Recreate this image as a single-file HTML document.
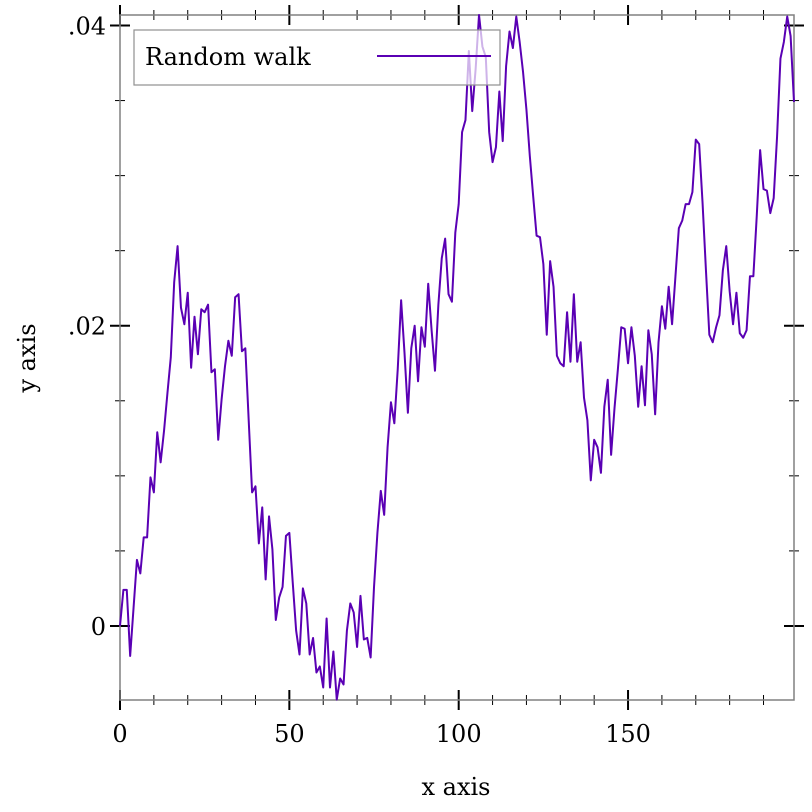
<!DOCTYPE html>
<html><head><meta charset="utf-8"><style>
html,body{margin:0;padding:0;background:#fff;}
svg{display:block;font-family:"DejaVu Serif","Liberation Serif",serif;}
</style></head><body>
<svg id="chart" width="812" height="812" viewBox="0 0 812 812" xmlns="http://www.w3.org/2000/svg">
<rect x="0" y="0" width="812" height="812" fill="#fff"/>
<g id="ticks"></g>
<rect x="120" y="15" width="674" height="685" fill="none" stroke="#808080" stroke-width="1.5"/>
<polyline id="series" fill="none" stroke="#5a00b4" stroke-width="2" stroke-linejoin="round"/>
<g id="ticklabels" font-size="24" fill="#000"></g>
<text x="456" y="795" text-anchor="middle" font-size="24">x axis</text>
<text transform="translate(35,358) rotate(-90)" text-anchor="middle" font-size="24">y axis</text>
<g>
<rect x="134" y="30" width="366" height="55" fill="rgba(255,255,255,0.7)" stroke="#909090" stroke-width="1.2"/>
<text x="145" y="65" font-size="24">Random walk</text>
<line x1="377" y1="56" x2="491" y2="56" stroke="#5a00b4" stroke-width="2"/>
</g>
</svg>
<script>
const walkValues = [0,2.4,2.4,-2.0,1.2,4.4,3.5,5.9,5.9,9.9,8.9,12.9,10.9,13.0,15.5,17.9,22.9,25.3,21.2,20.1,22.2,17.2,20.6,18.1,21.1,20.9,21.4,16.9,17.1,12.4,15.1,17.3,19.0,18.0,21.9,22.1,18.3,18.5,13.7,8.9,9.3,5.5,7.9,3.1,7.3,5.1,0.4,1.9,2.6,6.0,6.2,2.9,-0.3,-1.9,2.5,1.5,-1.9,-0.8,-3.1,-2.7,-4.1,0.5,-4.1,-1.7,-4.9,-3.5,-3.9,-0.3,1.5,0.9,-1.4,2.0,-0.9,-0.8,-2.1,2.6,6.2,9.0,7.4,11.9,14.9,13.5,17.1,21.7,18.2,14.2,18.5,20.0,16.3,19.9,18.6,22.8,19.7,17.0,21.4,24.5,25.8,22.1,21.6,26.2,28.1,32.9,33.7,38.3,34.3,37.1,40.7,38.6,37.9,32.9,30.9,31.9,35.6,32.3,37.3,39.6,38.5,40.6,38.9,36.9,34.4,31.3,28.6,26.0,25.9,24.1,19.4,24.3,22.6,18.0,17.5,17.3,20.9,17.6,22.1,17.6,18.9,15.2,13.7,9.7,12.4,11.9,10.2,14.6,16.4,11.4,14.5,17.1,19.9,19.8,17.5,19.9,18.0,14.6,17.3,14.7,19.7,18.1,14.1,18.9,21.3,19.8,22.6,20.1,23.3,26.5,27.0,28.1,28.1,28.9,32.4,32.1,28.2,23.7,19.4,18.9,19.9,20.7,23.7,25.3,22.3,20.1,22.2,19.5,19.2,19.7,23.3,23.3,27.3,31.7,29.1,29.0,27.5,28.5,32.6,37.8,38.9,40.6,39.3,34.9];
const xTickValues = [0,50,100,150];
const xTickLabels = ["0","50","100","150"];
const yTickValues = [0,0.02,0.04];
const yTickLabels = ["0",".02",".04"];

const X0=120,X1=794,Y0=700,Y1=15;
const xMin=0,xMax=199,yMin=-0.004933,yMax=0.0407;
function sx(v){return X0+(v-xMin)/(xMax-xMin)*(X1-X0);}
function sy(v){return Y0-(v-yMin)/(yMax-yMin)*(Y0-Y1);}
const NS="http://www.w3.org/2000/svg";

document.getElementById('series').setAttribute('points',
  walkValues.map((v,i)=>sx(i).toFixed(2)+','+sy(v/1000).toFixed(2)).join(' '));

const tg=document.getElementById('ticks');
function line(x1,y1,x2,y2,w,name){
  const l=document.createElementNS(NS,'line');
  l.setAttribute('x1',x1);l.setAttribute('y1',y1);l.setAttribute('x2',x2);l.setAttribute('y2',y2);
  l.setAttribute('stroke','#000');l.setAttribute('stroke-width',w);
  
  
  tg.appendChild(l);
}
for(let v=0;v<=xMax;v+=10){
  const major=v%50===0, L=major?10:5, w=major?2:1, x=sx(v);
  line(x,Y0-L,x,Y0+L,w,'x-tick');
  line(x,Y1-L,x,Y1+L,w,'x-tick-top');
}
for(let k=-1;k<=8;k++){
  const v=k*0.005; if(v<yMin||v>yMax) continue;
  const major=k%4===0, L=major?10:5, w=major?2:1, y=sy(v);
  line(X0-L,y,X0+L,y,w,'y-tick');
  line(X1-L,y,X1+L,y,w,'y-tick-right');
}
const lg=document.getElementById('ticklabels');
xTickValues.forEach((v,i)=>{
  const t=document.createElementNS(NS,'text');
  t.setAttribute('x',sx(v));t.setAttribute('y',742);t.setAttribute('text-anchor','middle');
  t.textContent=xTickLabels[i];
  
  
  lg.appendChild(t);
});
yTickValues.forEach((v,i)=>{
  const t=document.createElementNS(NS,'text');
  t.setAttribute('x',106);t.setAttribute('y',sy(v)+9);t.setAttribute('text-anchor','end');
  t.textContent=yTickLabels[i];
  
  
  lg.appendChild(t);
});
</script>
</body></html>
